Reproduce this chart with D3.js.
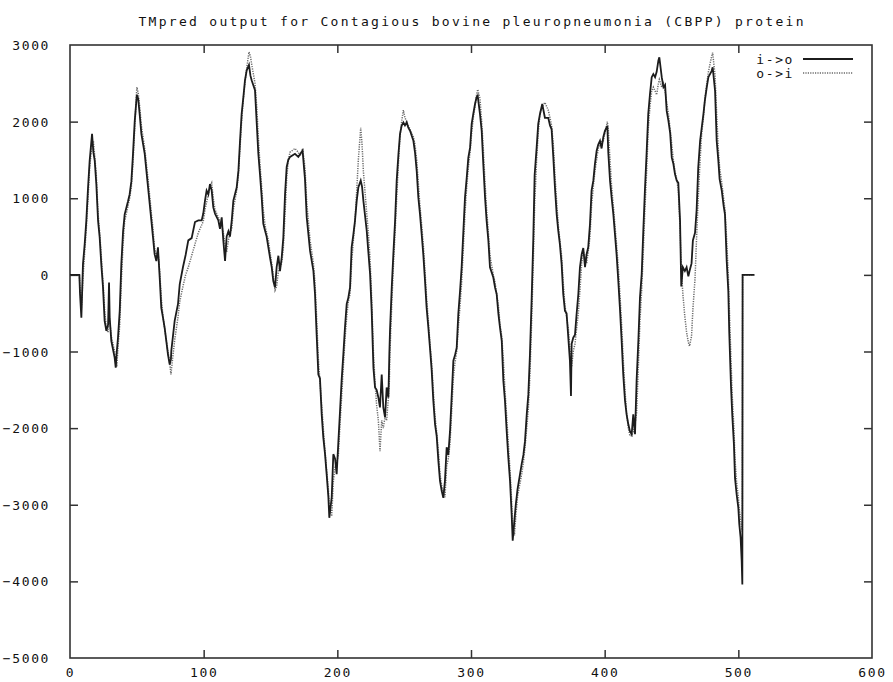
<!DOCTYPE html>
<html>
<head>
<meta charset="utf-8">
<script src="https://cdn.jsdelivr.net/npm/d3@7/dist/d3.min.js"></script>
<style>
  html, body { margin: 0; padding: 0; background: #fff; }
  svg { display: block; }
  text { font-family: "DejaVu Sans Mono", "Liberation Mono", monospace; fill: #111; }
</style>
</head>
<body>
<div id="chart"></div>
<script>
const titleText = "TMpred output for Contagious bovine pleuropneumonia (CBPP) protein";
const seriesNames = ["i->o", "o->i"];
const xTicks = [0, 100, 200, 300, 400, 500, 600];
const yTicks = [-5000, -4000, -3000, -2000, -1000, 0, 1000, 2000, 3000];

// residue positions
const residues = [
0,7,7.5,8.5,9.7,11,12.2,13.5,14.7,16.5,17.5,18.5,19.7,21,22.2,23.4,24.7,25.9,27.2,28.5,29.2,29.7,30.9,33.4,34.2,35,35.9,37.2,38.4,39.7,40.9,43.4,44.6,45.9,47.1,48.4,50,51,52.1,53.4,55.9,58.4,60.9,62.1,63.3,64.6,65.8,67.1,68.3,69.6,70.8,73.3,74.6,75.5,75.8,78.3,80.8,82.1,84.5,86.5,88.5,91,93.5,96,98.5,99.7,101,102.2,103.5,104.7,106,107.2,108.5,111,112.2,113.5,114.7,116,117.2,118.5,119.7,121,122.2,124.7,126,127.2,128.4,129.7,130.9,132.2,133.9,135,135.9,138.4,139.7,140.9,142.1,143.4,144.6,145.9,147.1,148.4,149.6,150.9,152.1,153.4,154.6,155.9,157.1,158.4,159.6,160.9,162.1,163.3,164.6,168.3,170.8,172.1,174,175.8,177.1,179.6,182.1,183.3,184.5,185.8,187,188.3,189.5,190.8,192,193.3,194,195.8,197,198.3,199.5,200.8,202,203.2,204.5,205.7,207,208.2,209.5,210.7,212,213.2,214.5,215.7,217.5,218.5,219.5,222,223.2,224.5,225.7,227,228.2,229.4,230.7,231.9,233.2,234.4,235.7,236.9,238.2,238.9,239.4,240.7,241.9,243.2,244.4,245.7,246.9,248.1,249.4,250.6,251.9,253.1,254.4,256.9,258.1,259.4,260.6,261.8,263.1,264.3,265.6,266.8,268.1,269.3,270.6,271.8,273.1,274.3,275.6,276.8,278.1,279.3,280.5,281.8,283,284.3,285.5,286.8,288,289.3,290.5,291.8,293,294.3,295.5,296.8,298,299.3,300.5,301.7,303,304.2,305,306.7,308,309.2,310.5,311.7,313,314.2,316.7,318,319.2,320.5,321.7,323,324.2,325.4,326.7,327.9,329.2,330.4,331.2,332.5,333.5,334.8,337.9,339.2,340.4,341.7,342.9,344.1,345.4,346.6,347.6,349.1,350.3,351.6,353.3,355.3,357.8,359.1,360.3,361.6,362.8,364.1,365.3,366.5,367.8,369,370.3,371.5,372.8,374,374.8,375.3,376.5,377.8,379,380.3,381.5,382.8,384,385.3,386.5,387.7,389,390.2,391.5,392.7,394,395.2,396.5,397.7,399,400.2,402,402.7,404,405.2,406.5,407.7,408.9,410.2,411.4,412.7,413.9,415.2,416.4,417.7,418.9,420.2,421.4,422.7,423.9,425.2,426.4,427.7,428.9,430.1,431.4,432.6,433.9,435.2,436.4,437.7,438.9,440.2,440.9,442.7,444,445.2,446.4,447.7,449,450.2,451.4,452.6,453.9,455.1,456.4,457.3,458.5,460,461.3,462.6,463.5,465,466,467.6,468.8,470,471.4,472.6,473.9,475,476.4,477.6,478.8,480,480.8,482.6,483.8,485,486,487.6,489,490,491.3,492.5,493.2,494.5,495.5,496.7,497.5,498.7,500,500.7,501.7,502.5,503,503.2,512
];

// i->o (solid)
const ioValues = [
0,0,-250,-560,140,405,705,1140,1490,1840,1600,1490,1183,705,488,140,-165,-600,-730,-650,-100,-560,-860,-1080,-1210,-1000,-820,-470,140,570,790,960,1050,1220,1570,2000,2350,2300,2100,1840,1580,1140,705,490,270,180,360,-35,-430,-560,-690,-1040,-1170,-1100,-990,-600,-380,-120,100,260,450,480,690,710,710,800,970,1100,1050,1185,1100,880,800,710,600,750,450,183,500,570,500,710,970,1140,1360,1750,2100,2320,2540,2670,2740,2600,2540,2410,1975,1580,1320,1015,670,580,500,360,230,100,-80,-165,100,250,50,230,490,1060,1410,1500,1540,1580,1540,1575,1620,1250,750,313,52,-250,-770,-1300,-1350,-1820,-2120,-2340,-2600,-2900,-3170,-2900,-2340,-2400,-2600,-2170,-1780,-1380,-1035,-690,-380,-300,-165,360,530,705,965,1140,1230,1150,965,575,300,10,-470,-1210,-1470,-1500,-1600,-1730,-1300,-1730,-1860,-1470,-1600,-1035,-730,-165,270,705,1230,1575,1840,1945,1990,1950,1990,1920,1880,1750,1600,1350,1010,800,530,270,-80,-430,-690,-950,-1250,-1640,-1950,-2100,-2430,-2690,-2820,-2910,-2690,-2250,-2350,-2040,-1600,-1120,-1050,-950,-510,-210,100,575,1010,1270,1530,1660,1970,2100,2230,2320,2340,2100,1880,1445,1010,705,445,100,-35,-165,-250,-510,-690,-860,-1380,-1640,-2040,-2380,-2690,-3120,-3470,-3200,-3000,-2800,-2470,-2350,-2170,-1820,-1560,-1035,-300,470,1300,1660,1970,2100,2230,2050,2050,1950,1900,1530,1140,790,575,400,140,-250,-470,-500,-820,-1120,-1580,-900,-820,-780,-510,-250,100,270,350,100,270,360,660,1100,1230,1445,1620,1700,1750,1650,1800,1880,1945,1600,1230,1010,790,530,270,-80,-430,-860,-1300,-1640,-1820,-1950,-2040,-2080,-1820,-2080,-1380,-860,-300,10,575,1100,1600,2100,2360,2580,2620,2580,2650,2800,2840,2580,2450,2480,2140,2010,1850,1530,1450,1315,1230,1200,705,-150,100,50,100,-20,50,150,450,550,850,1400,1750,1920,2100,2280,2450,2580,2620,2660,2710,2400,1750,1500,1250,1100,900,790,180,-210,-750,-1450,-1840,-2210,-2650,-2860,-3040,-3250,-3430,-3730,-4040,0,0
];

// o->i (dotted)
const oiValues = [
0,0,-150,-450,-50,300,600,1000,1400,1700,1750,1550,1300,800,550,250,-100,-450,-700,-750,-500,-600,-800,-1000,-1100,-1200,-950,-650,-100,400,700,900,1000,1150,1450,1900,2450,2380,2200,1950,1650,1250,800,600,350,250,300,50,-300,-550,-700,-1000,-1150,-1300,-1250,-850,-550,-350,-150,0,100,250,400,550,650,700,850,950,1050,1150,1200,1000,850,750,700,650,550,400,300,450,550,600,850,1100,1300,1650,2000,2300,2500,2700,2910,2850,2750,2500,2200,1800,1450,1150,850,650,550,450,300,150,0,-200,-150,50,100,150,350,800,1250,1500,1600,1650,1600,1550,1650,1400,950,450,150,-100,-550,-1100,-1400,-1700,-2000,-2300,-2550,-2800,-3000,-3150,-2700,-2500,-2450,-2350,-1950,-1600,-1200,-850,-550,-350,-250,150,450,700,1100,1500,1920,1700,1350,800,550,200,-300,-1000,-1400,-1700,-1900,-2300,-1900,-2000,-1850,-1900,-1600,-1400,-1000,-400,100,550,1000,1450,1800,2000,2150,2050,2000,1950,1900,1800,1700,1500,1200,900,650,400,50,-300,-600,-900,-1150,-1500,-1850,-2050,-2300,-2600,-2750,-2850,-2900,-2500,-2400,-2200,-1800,-1350,-1150,-1000,-700,-400,-100,350,800,1150,1400,1600,1850,2050,2200,2350,2420,2300,2000,1650,1200,850,550,250,0,-100,-250,-400,-650,-800,-1100,-1500,-1850,-2200,-2550,-2950,-3250,-3400,-3150,-2900,-2600,-2450,-2250,-2000,-1750,-1300,-600,150,900,1500,1850,2100,2200,2250,2150,2050,1950,1700,1300,950,650,450,250,-100,-400,-550,-700,-950,-1100,-1200,-1000,-900,-700,-500,-200,150,300,250,150,300,500,900,1150,1350,1500,1650,1700,1750,1750,1850,2000,1900,1500,1150,900,650,400,100,-250,-650,-1100,-1500,-1800,-2000,-2100,-2100,-2050,-1950,-1800,-1200,-600,-200,300,850,1350,1900,2200,2400,2450,2400,2350,2500,2550,2450,2500,2400,2250,2100,1900,1700,1500,1350,1250,1100,600,100,-250,-550,-750,-880,-930,-800,-450,-50,500,1000,1500,1850,2050,2300,2500,2650,2750,2850,2900,2600,2100,1650,1400,1200,1000,850,450,0,-400,-1100,-1600,-2000,-2400,-2700,-2900,-3050,-3200,-3300,-3350,0,0
];

const W = 893, H = 682;
const m = { left: 70, right: 872, top: 45, bottom: 658 };

const svg = d3.select("#chart").append("svg")
  .attr("width", W).attr("height", H);

const x = d3.scaleLinear().domain([0, 600]).range([m.left, m.right]);
const y = d3.scaleLinear().domain([-5000, 3000]).range([m.bottom, m.top]);

const fontSize = 13;
const ls = "1.6px";

// title
svg.append("text")
  .attr("x", (m.left + m.right) / 2)
  .attr("y", 26)
  .attr("text-anchor", "middle")
  .attr("font-size", fontSize)
  .attr("textLength", 665)
  .attr("lengthAdjust", "spacing")
  .text(titleText);

const tickLen = 8;
const tickColor = "#333";

// axes with inward ticks
const gBottom = svg.append("g").attr("transform", `translate(0,${m.bottom})`)
  .call(d3.axisBottom(x).tickValues(xTicks).tickSize(-tickLen).tickPadding(14).tickFormat(d3.format("d")));
const gTop = svg.append("g").attr("transform", `translate(0,${m.top})`)
  .call(d3.axisTop(x).tickValues(xTicks).tickSize(-tickLen).tickFormat(""));
const gLeft = svg.append("g").attr("transform", `translate(${m.left},0)`)
  .call(d3.axisLeft(y).tickValues(yTicks).tickSize(-tickLen).tickPadding(tickLen + 12).tickFormat(d3.format("d")));
const gRight = svg.append("g").attr("transform", `translate(${m.right},0)`)
  .call(d3.axisRight(y).tickValues(yTicks).tickSize(-tickLen).tickFormat(""));

[gBottom, gTop, gLeft, gRight].forEach(g => {
  g.select(".domain").remove();
  g.selectAll(".tick line").attr("stroke", tickColor).attr("stroke-width", 1.5);
  g.selectAll(".tick text")
    .attr("font-family", "DejaVu Sans Mono, monospace")
    .attr("font-size", fontSize)
    .attr("fill", "#111")
    .style("letter-spacing", ls);
});
// remove ticks at the corners (frame)
gBottom.selectAll(".tick line").filter(d => d === 0 || d === 600).remove();
gTop.selectAll(".tick line").filter(d => d === 0 || d === 600).remove();
gLeft.selectAll(".tick line").filter(d => d === -5000 || d === 3000).remove();
gRight.selectAll(".tick line").filter(d => d === -5000 || d === 3000).remove();
gLeft.selectAll(".tick text").attr("dy", "0.35em");
gBottom.selectAll(".tick text").attr("dy", "0.35em");

// frame
svg.append("rect")
  .attr("x", m.left).attr("y", m.top)
  .attr("width", m.right - m.left).attr("height", m.bottom - m.top)
  .attr("fill", "none").attr("stroke", "#333").attr("stroke-width", 1.6);

const line = d3.line().x(d => x(d[0])).y(d => y(d[1]));
const ioData = residues.map((r, i) => [r, ioValues[i]]);
const oiData = residues.map((r, i) => [r, oiValues[i]]);

svg.append("path").datum(oiData)
  .attr("d", line).attr("fill", "none")
  .attr("stroke", "#6a6a6a").attr("stroke-width", 1.5)
  .attr("stroke-dasharray", "1.2,1.2");

svg.append("path").datum(ioData)
  .attr("d", line).attr("fill", "none")
  .attr("stroke", "#1c1c1c").attr("stroke-width", 1.8)
  .attr("stroke-linejoin", "miter");

// legend
const legRows = [59, 73];
const legend = svg.append("g");
seriesNames.forEach((name, i) => {
  legend.append("text")
    .attr("x", 794).attr("y", legRows[i]).attr("dy", "0.35em")
    .attr("text-anchor", "end")
    .attr("font-size", fontSize)
    .style("letter-spacing", ls)
    .text(name);
  legend.append("line")
    .attr("x1", 803).attr("x2", 853)
    .attr("y1", legRows[i]).attr("y2", legRows[i])
    .attr("stroke", i === 0 ? "#1c1c1c" : "#6a6a6a")
    .attr("stroke-width", i === 0 ? 1.8 : 1.5)
    .attr("stroke-dasharray", i === 0 ? null : "1.2,1.2");
});
</script>
</body>
</html>
